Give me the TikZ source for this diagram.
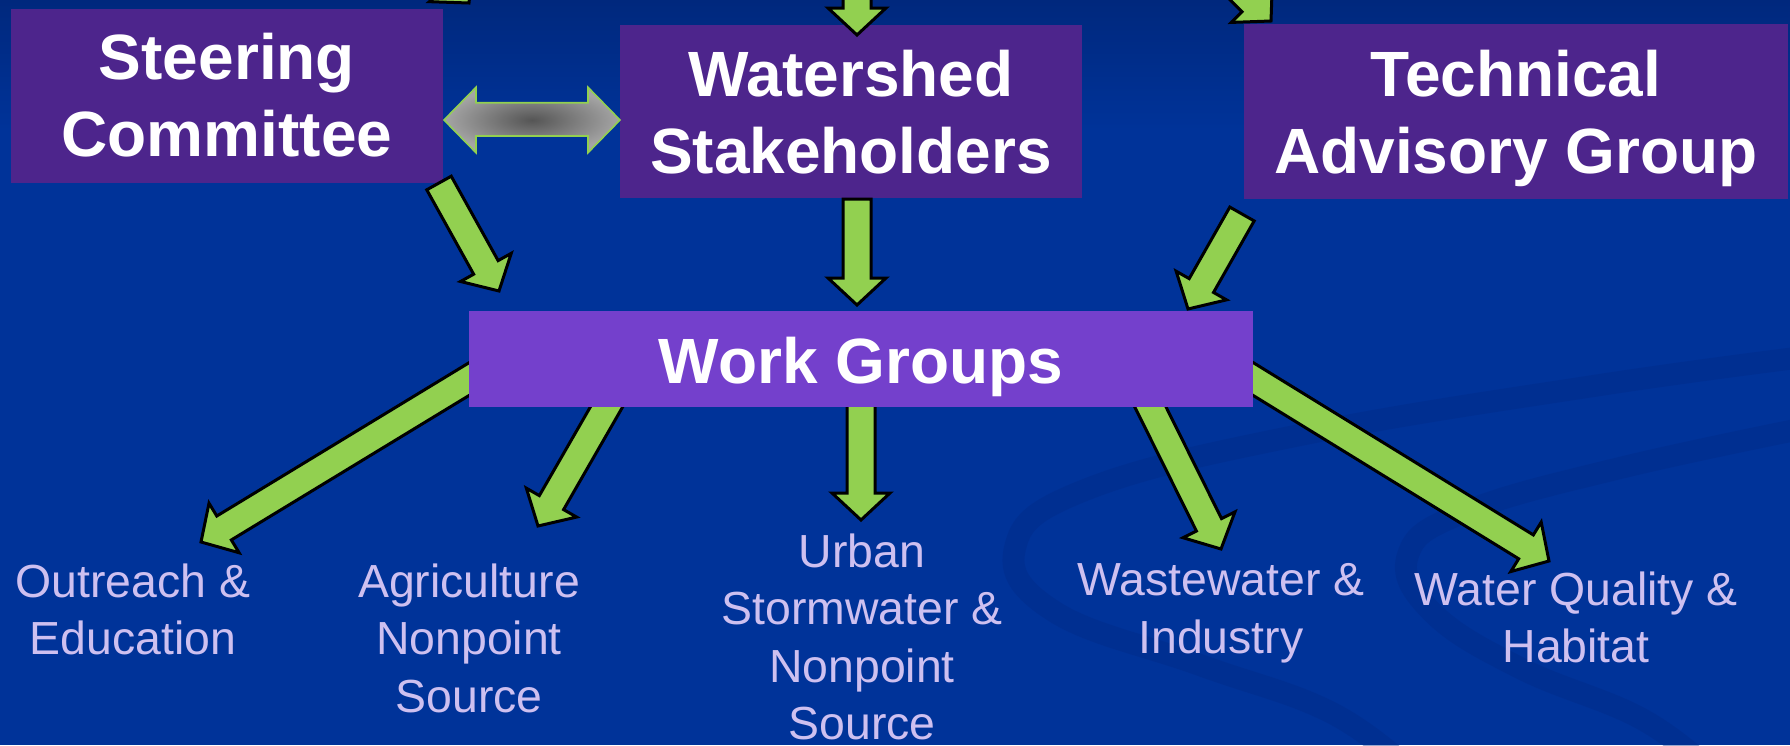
\documentclass[tikz,border=0pt]{standalone}
\usepackage{fontspec}
\setmainfont{Liberation Sans}
\usetikzlibrary{calc}
\definecolor{bgblue}{RGB}{0,51,153}
\definecolor{bgtop}{RGB}{0,40,125}
\definecolor{boxpurple}{RGB}{77,37,140}
\definecolor{wgpurple}{RGB}{116,64,204}
\definecolor{arrgreen}{RGB}{146,208,80}
\definecolor{lav}{RGB}{206,192,240}
\definecolor{swirlblue}{RGB}{0,42,135}
\definecolor{dgray}{RGB}{85,85,85}
\definecolor{lgray}{RGB}{165,165,165}
\newcommand\blockarrow[2]{%
  \coordinate (tmpc) at ($(#2)!13.5pt!(#1)$);
  \draw[blockarr] ($(#1)!7pt!90:(#2)$) -- ($(tmpc)!7pt!90:(#2)$)
    -- ($(tmpc)!14.5pt!90:(#2)$) -- (#2) -- ($(tmpc)!14.5pt!-90:(#2)$)
    -- ($(tmpc)!7pt!-90:(#2)$) -- ($(#1)!7pt!-90:(#2)$) -- cycle;}
\tikzset{
  blockarr/.style={fill=arrgreen, draw=black, line width=1.5pt, line join=miter},
  box/.style={rectangle, fill=boxpurple, inner sep=0pt},
  wgbox/.style={rectangle, fill=wgpurple, inner sep=0pt},
  title/.style={text=white, font=\bfseries\fontsize{32}{38.5}\selectfont, align=center, inner sep=0pt, anchor=north},
  lbl/.style={text=lav, font=\fontsize{23.2}{28.8}\selectfont, align=center, inner sep=0pt, anchor=north},
  swirl/.style={draw=swirlblue, line width=11pt, opacity=0.4, line cap=round}
}
\begin{document}
\begin{tikzpicture}[x=0.5pt, y=-0.5pt]
\useasboundingbox (0,0) rectangle (1790,745);
\begin{scope}
\clip (0,0) rectangle (1790,745);
% background
\fill[bgblue] (0,0) rectangle (1790,745);
\shade[top color=bgtop, bottom color=bgblue] (0,0) rectangle (1790,130);
% swirls
\draw[swirl] plot[smooth, tension=0.7] coordinates {(1820,355) (1600,385) (1300,435) (1085,490) (1015,548) (1055,612) (1200,665) (1330,712) (1410,770)};
\draw[swirl] plot[smooth, tension=0.7] coordinates {(1820,425) (1620,468) (1465,512) (1408,555) (1432,612) (1520,668) (1640,718) (1710,770)};

% named anchor points of the arrows
\coordinate (a4s) at (512,353);  \coordinate (a4e) at (201,542);
\coordinate (a5s) at (622,380);  \coordinate (a5e) at (538,526);
\coordinate (a6s) at (861,380);  \coordinate (a6e) at (861,520);
\coordinate (a7s) at (1137,380); \coordinate (a7e) at (1221,549);
\coordinate (a8s) at (1219,358); \coordinate (a8e) at (1549,561);
\coordinate (a1s) at (439,183);  \coordinate (a1e) at (499,291);
\coordinate (a2s) at (857,199);  \coordinate (a2e) at (857,305);
\coordinate (a3s) at (1242,214); \coordinate (a3e) at (1188,309);
\coordinate (t1s) at (857,-80);  \coordinate (t1e) at (857,35);
\coordinate (t2s) at (1171,-79); \coordinate (t2e) at (1271,21);
\coordinate (t3s) at (375,-105); \coordinate (t3e) at (469,3);

% arrows out of Work Groups (behind the box)
\blockarrow{a4s}{a4e}
\blockarrow{a5s}{a5e}
\blockarrow{a6s}{a6e}
\blockarrow{a7s}{a7e}
\blockarrow{a8s}{a8e}

% boxes
\node[wgbox, minimum width=392pt, minimum height=48pt] (wg) at (861,359) {};
\node[box, minimum width=216pt, minimum height=87pt] (sc) at (227,96) {};
\node[box, minimum width=231pt, minimum height=86.5pt] (ws) at (851,111.5) {};
\node[box, minimum width=272pt, minimum height=87.5pt] (tag) at (1516,111.5) {};

% arrows into Work Groups and partial arrows at the top
\blockarrow{a1s}{a1e}
\blockarrow{a2s}{a2e}
\blockarrow{a3s}{a3e}
\blockarrow{t1s}{t1e}
\blockarrow{t2s}{t2e}
\blockarrow{t3s}{t3e}

% double arrow between Steering Committee and Watershed Stakeholders
\coordinate (dl) at (444,120);
\coordinate (dr) at (620,120);
\shadedraw[inner color=dgray, outer color=lgray, draw=arrgreen, line width=0.8pt]
  (dl) -- ++(32,-32.7) -- ++(0,15.4) -- ++(112,0) -- ++(0,-15.4) -- (dr)
  -- ++(-32,32.7) -- ++(0,-16.7) -- ++(-112,0) -- ++(0,16.7) -- cycle;
\end{scope}

% titles
\node[title] (sct) at ($(sc.north)+(0,24)$) {Steering\\Committee};
\node[title] (wst) at ($(ws.north)+(0,25)$) {Watershed\\Stakeholders};
\node[title] (tagt) at ($(tag.north)+(0,26)$) {Technical\\Advisory Group};
\node[title] (wgt) at ($(wg.north)+(0,26)$) {Work Groups};

% work group labels
\node[lbl] (oe) at (133,563) {Outreach \&\\Education};
\node[lbl] (ag) at (469,563) {Agriculture\\Nonpoint\\Source};
\node[lbl] (ur) at (862,533) {Urban\\Stormwater \&\\Nonpoint\\Source};
\node[lbl] (ww) at (1221,563) {Wastewater \&\\Industry};
\node[lbl] (wq) at (1576,571) {Water Quality \&\\Habitat};
\end{tikzpicture}
\end{document}
